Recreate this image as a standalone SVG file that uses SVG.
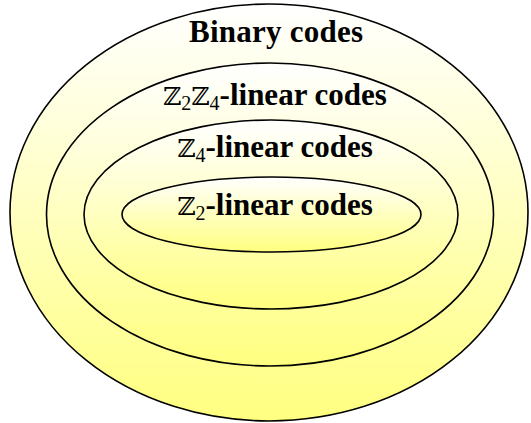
<svg xmlns="http://www.w3.org/2000/svg" width="531" height="423" viewBox="0 0 531 423">
<defs>
<linearGradient id="g" x1="0" y1="0" x2="0" y2="1">
<stop offset="0" stop-color="#ffffff"/>
<stop offset="1" stop-color="#ffff80"/>
</linearGradient>
<style>
.e{fill:url(#g);stroke:#000;stroke-width:1.6}
.t{font-family:'Liberation Serif','Times New Roman',serif;font-weight:bold;font-size:31px;fill:#000;text-anchor:middle}
.z{font-family:'DejaVu Serif',serif;font-weight:normal;font-size:25px}
.s{font-weight:normal;font-size:20px}
</style>
</defs>
<g id="binary">
<ellipse class="e" cx="269" cy="212.5" rx="259" ry="208.5"/>
<text class="t" x="276" y="42" textLength="174">Binary codes</text>
</g>
<g id="z2z4">
<ellipse class="e" cx="270" cy="214.5" rx="223.5" ry="151.5"/>
<text class="t" x="275" y="105"><tspan class="z">ℤ</tspan><tspan class="s" dy="5">2</tspan><tspan class="z" dy="-5">ℤ</tspan><tspan class="s" dy="5">4</tspan><tspan dy="-5">-linear codes</tspan></text>
</g>
<g id="z4">
<ellipse class="e" cx="271" cy="214.5" rx="187" ry="94.5"/>
<text class="t" x="275" y="157"><tspan class="z">ℤ</tspan><tspan class="s" dy="5">4</tspan><tspan dy="-5">-linear codes</tspan></text>
</g>
<g id="z2">
<ellipse class="e" cx="271.5" cy="214.5" rx="149.5" ry="37.5"/>
<text class="t" x="275" y="215"><tspan class="z">ℤ</tspan><tspan class="s" dy="5">2</tspan><tspan dy="-5">-linear codes</tspan></text>
</g>
<g id="connectors"/>
</svg>
